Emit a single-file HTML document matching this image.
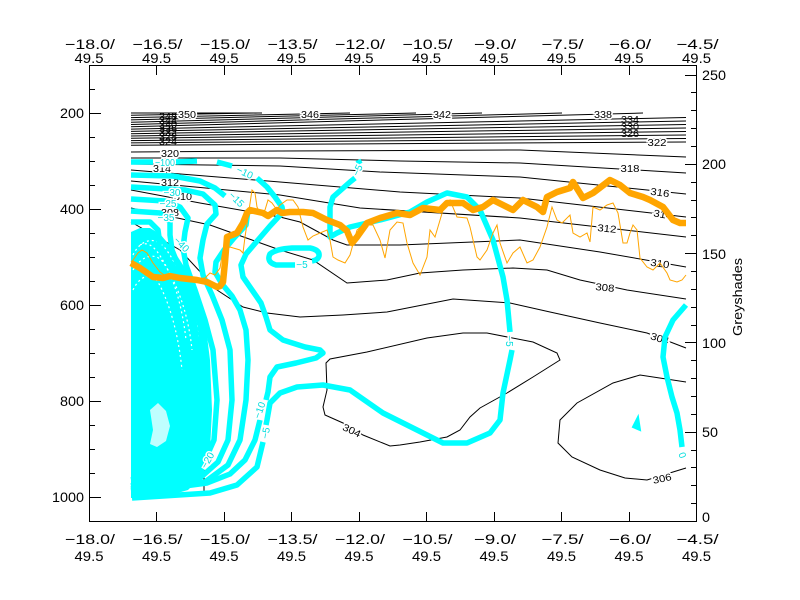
<!DOCTYPE html>
<html><head><meta charset="utf-8"><style>html,body{margin:0;padding:0;background:#fff;}svg{display:block;}</style></head>
<body>
<svg width="800" height="600" viewBox="0 0 800 600" xmlns="http://www.w3.org/2000/svg" font-family="'Liberation Sans', sans-serif">
<rect width="800" height="600" fill="#fff"/>

<!-- black theta contours -->
<g fill="none" stroke="#000" stroke-width="1">
  <path d="M131,113 L262,113"/>
  <path d="M131,115.3 L258,113"/>
  <path d="M131,117.6 L350,113"/>
  <path d="M131,119.9 L416,113"/>
  <path d="M131,122.2 L482,113"/>
  <path d="M131,124.5 L562,113"/>
  <path d="M131,126.8 L643,113"/>
  <path d="M131,129.1 L686,117.5"/>
  <path d="M131,131.4 L686,121"/>
  <path d="M131,133.7 L686,124.5"/>
  <path d="M131,136 L686,128"/>
  <path d="M131,138.3 L686,131.5"/>
  <path d="M131,140.6 L686,135"/>
  <path d="M131,142.9 L686,138.5"/>
  <path d="M131,145.2 L686,142"/>
  <path d="M131,152 L280,151 L520,150 L686,157"/>
  <path d="M131,158 L280,158 L400,161 L520,163 L686,173"/>
  <path d="M131,164 L280,166 L380,172 L520,177 L686,194"/>
  <path d="M131,170 L280,182 L400,192 L520,198 L686,217"/>
  <path d="M131,181 L280,195 L360,208 L520,218 L686,237"/>
  <path d="M131,190 L200,203 L280,217 L300,222 L333,240 L347,245 L400,245 L520,240 L600,252 L686,267"/>
  <path d="M131,208 L210,225 L280,250 L313,260 L347,283 L387,280 L420,273 L463,270 L513,268 L547,270 L580,280 L627,290 L686,299"/>
  <path d="M131,222 L180,250 L217,290 L243,307 L267,313 L300,317 L343,315 L387,312 L453,299 L510,303 L550,312 L600,323 L647,333 L686,348"/>
  <path d="M560,360 L533,377 L507,393 L480,408 L470,417 L460,430 L447,437 L420,442 L400,445 L390,446 L363,435 L343,423 L325,415 L323,407 L327,390 L326,363 L330,359 L367,352 L427,338 L463,333 L487,333 L533,342 L557,353 Z"/>
  <path d="M686,382 L640,375 L613,383 L577,403 L560,420 L558,443 L572,457 L600,470 L625,478 L647,480 L673,472 L686,468"/>
  <path d="M204,460 L204,495"/>
</g>

<!-- black contour labels -->
<g font-size="10" fill="#000" text-anchor="middle" stroke="#fff" stroke-width="3" paint-order="stroke">
  <text x="187" y="118" textLength="18" lengthAdjust="spacingAndGlyphs">350</text>
  <text x="310" y="118" textLength="18" lengthAdjust="spacingAndGlyphs">346</text>
  <text x="442" y="118" textLength="18" lengthAdjust="spacingAndGlyphs">342</text>
  <text x="603" y="118" textLength="18" lengthAdjust="spacingAndGlyphs">338</text>
  <text x="657" y="146" textLength="19" lengthAdjust="spacingAndGlyphs">322</text>
  <text x="630" y="172" textLength="19" lengthAdjust="spacingAndGlyphs">318</text>
  <text x="660" y="196" textLength="19" lengthAdjust="spacingAndGlyphs" transform="rotate(8,660,192)">316</text>
  <text x="663" y="218" textLength="19" lengthAdjust="spacingAndGlyphs" transform="rotate(10,663,214)">314</text>
  <text x="607" y="232" textLength="19" lengthAdjust="spacingAndGlyphs" transform="rotate(6,607,228)">312</text>
  <text x="660" y="267" textLength="19" lengthAdjust="spacingAndGlyphs" transform="rotate(8,660,263)">310</text>
  <text x="605" y="291" textLength="19" lengthAdjust="spacingAndGlyphs" transform="rotate(6,605,287)">308</text>
  <text x="660" y="342" textLength="19" lengthAdjust="spacingAndGlyphs" transform="rotate(18,660,338)">304</text>
  <text x="352" y="434" textLength="19" lengthAdjust="spacingAndGlyphs" transform="rotate(25,352,430)">304</text>
  <text x="662" y="482" textLength="19" lengthAdjust="spacingAndGlyphs" transform="rotate(-12,662,478)">306</text>
  <text x="170" y="157" textLength="18" lengthAdjust="spacingAndGlyphs">320</text>
  <text x="162" y="172" textLength="18" lengthAdjust="spacingAndGlyphs">314</text>
  <text x="170" y="186" textLength="18" lengthAdjust="spacingAndGlyphs">312</text>
  <text x="183" y="200" textLength="18" lengthAdjust="spacingAndGlyphs">310</text>
  <text x="170" y="216" textLength="18" lengthAdjust="spacingAndGlyphs">308</text>
</g>
<g font-size="10" fill="#000" text-anchor="middle">
  <text x="630" y="123" textLength="18" lengthAdjust="spacingAndGlyphs">334</text>
  <text x="630" y="130" textLength="18" lengthAdjust="spacingAndGlyphs">330</text>
  <text x="630" y="137" textLength="18" lengthAdjust="spacingAndGlyphs">326</text>
  <text x="168" y="120" textLength="18" lengthAdjust="spacingAndGlyphs">348</text>
  <text x="168" y="124" textLength="18" lengthAdjust="spacingAndGlyphs">344</text>
  <text x="168" y="128" textLength="18" lengthAdjust="spacingAndGlyphs">340</text>
  <text x="168" y="132" textLength="18" lengthAdjust="spacingAndGlyphs">336</text>
  <text x="168" y="136" textLength="18" lengthAdjust="spacingAndGlyphs">332</text>
  <text x="168" y="140" textLength="18" lengthAdjust="spacingAndGlyphs">328</text>
  <text x="168" y="145" textLength="18" lengthAdjust="spacingAndGlyphs">324</text>
</g>

<!-- cyan mass -->
<path d="M131,232 L140,228 L150,228 L160,234 L172,248 L185,268 L197,292 L205,320 L210,360 L212,410 L210,450 L203,475 L188,490 L160,498 L131,498 Z" fill="#00ffff"/>
<g fill="none" stroke="#fff" stroke-width="1.2" stroke-dasharray="2 3">
  <path d="M133,255 C140,240 155,235 165,248 C178,265 195,300 200,340"/>
  <path d="M133,270 C142,255 155,252 163,262 C175,280 188,310 192,350"/>
  <path d="M133,290 C140,275 152,272 158,282 C168,300 178,330 182,370"/>
  <path d="M140,245 C150,240 158,250 168,270 C178,290 184,320 186,340"/>
</g>
<path d="M150,410 L158,403 L166,411 L170,426 L166,441 L157,447 L150,444 L153,430 Z" fill="#fff" fill-opacity="0.75"/>

<!-- cyan contours -->
<g fill="none" stroke="#00ffff" stroke-width="5.5" stroke-linejoin="round" stroke-linecap="butt">
  <path d="M132,498 L210,493 L237,485 L257,467 L263,442 M266,425 L267,420 L270,403 L280,393 L297,387 L323,385 L350,390 L383,413 L417,430 L443,443 L467,443 L490,433 L500,420 L503,393 L510,360 L512,350 M510,332 L507,300 L503,277 L493,240 L480,210 L467,197 L447,193 L427,202 L410,212 L380,220 L350,227 L337,233 L330,237 L330,207 L333,197 L350,182 L355,178"/>
  <path d="M358,160 L360,164"/>
  <path d="M131,162 L153,162 M176,162 L197,161 M217,162 L232,166 M257,178 L267,187 L275,197 L282,207 L283,212 L270,226 L258,240 L246,254 L241,265 L243,277 L252,290 L261,303 L266,317 L270,330 L283,340 L305,347 L320,350 L323,353 L316,358 L296,363 L277,367 L270,377 L268,392 L266,400 M260,420 L255,440 L245,460 L230,474 L207,483 L132,493"/>
  <path d="M131,175 L173,176 L200,181 L215,188 L225,196 M248,210 L246,225 L234,238 L224,250 L216,262 L215,272 L222,284 L232,296 L240,310 L246,330 L248,360 L246,400 L240,440 L228,465 L205,482 L131,491"/>
  <path d="M131,187 L185,190 L203,194 L215,205 L216,214 L207,224 L203,240 L200,258 L203,275 L212,295 L222,320 L230,350 L232,400 L228,440 L218,462 L200,478 L131,489"/>
  <path d="M131,199 L165,201 L180,207 L188,218 L185,232 L183,248 L186,265 L195,290 L205,320 L213,350 L217,400 L214,440 L205,460 L190,474 L131,486"/>
  <path d="M131,211 L160,213 L170,222 L170,235 L172,250 L180,270 L190,295 L200,325 L205,360 L207,410 L203,450 L185,470 L131,480"/>
  <path d="M131,222 L150,222 L158,230 L160,245"/>
  <path d="M295,265 L276,265 Q266,262 270,254 Q276,249 292,248 L310,248 Q320,250 319,256 Q318,260 312,261"/>
  <path d="M686,305 L673,320 L665,337 L663,357 L667,377 L672,397 L677,413 L680,430 L682,447"/>
</g>
<polygon points="633,427 638,417 640,430" fill="#00ffff" stroke="#00ffff" stroke-width="2"/>

<!-- cyan labels -->
<g font-size="10" fill="#00dddd" text-anchor="middle" stroke="#fff" stroke-width="3" paint-order="stroke">
  <text x="165" y="166" textLength="20" lengthAdjust="spacingAndGlyphs">−100</text>
  <text x="245" y="176" transform="rotate(25,245,172)">−10</text>
  <text x="237" y="203" transform="rotate(45,237,199)">−15</text>
  <text x="357" y="174" transform="rotate(-65,357,170)">−5</text>
  <text x="302" y="268">−5</text>
  <text x="510" y="345" transform="rotate(90,510,341)">−5</text>
  <text x="265" y="437" transform="rotate(-80,265,433)">−5</text>
  <text x="259" y="414" transform="rotate(-70,259,410)">−10</text>
  <text x="207" y="464" transform="rotate(-60,207,460)">−20</text>
  <text x="172" y="196">−30</text>
  <text x="168" y="207">−25</text>
  <text x="166" y="221">−35</text>
  <text x="182" y="248" transform="rotate(45,182,244)">−40</text>
  <text x="683" y="459" transform="rotate(70,683,455)">0</text>
</g>

<!-- orange lines -->
<path d="M131,262 L133,260 L138,253 L142,250 L147,253 L153,263 L160,272 L167,277 L180,279 L197,279 L205,278 L210,273 L215,275 L220,268 L223,250 L230,247 L240,250 L243,253 L245,237 L248,217 L252,190 L255,193 L257,207 L260,213 L265,210 L268,200 L272,203 L277,210 L280,205 L287,200 L293,200 L298,207 L303,227 L308,240 L313,236 L320,233 L327,230 L330,240 L333,257 L338,260 L345,263 L350,255 L357,230 L363,225 L373,225 L380,240 L385,258 L390,230 L397,222 L403,223 L407,243 L413,263 L420,275 L427,257 L430,230 L435,237 L443,210 L450,200 L457,217 L467,218 L470,227 L477,257 L480,260 L487,250 L493,233 L497,225 L500,243 L507,263 L513,253 L520,247 L527,263 L533,260 L540,247 L547,227 L552,207 L557,220 L562,223 L570,215 L573,233 L580,237 L587,233 L590,242 L593,207 L600,210 L607,205 L613,203 L618,213 L623,243 L627,243 L630,233 L633,225 L637,230 L640,258 L647,267 L653,270 L660,263 L667,273 L670,280 L677,282 L682,280 L686,275" fill="none" stroke="#ffa500" stroke-width="1"/>
<path d="M131,263 L140,268 L153,277 L163,278 L170,276 L180,278 L197,280 L207,282 L213,285 L217,287 L220,286 L223,282 L225,262 L227,237 L237,233 L243,223 L247,213 L250,210 L263,213 L268,216 L277,210 L282,213 L290,212 L303,212 L313,213 L327,220 L340,225 L347,231 L352,243 L357,237 L367,223 L380,218 L397,213 L410,215 L423,208 L440,210 L447,203 L463,203 L473,210 L483,207 L493,200 L503,205 L513,210 L523,200 L537,207 L543,212 L547,197 L557,192 L570,188 L573,182 L583,198 L593,193 L610,180 L620,185 L630,193 L643,197 L650,200 L663,207 L673,220 L680,223 L686,223" fill="none" stroke="#ffa500" stroke-width="6.5" stroke-linejoin="round"/>

<!-- frame and ticks -->
<g fill="none" stroke="#000" stroke-width="1" shape-rendering="crispEdges">
  <rect x="89.5" y="65.5" width="607" height="456"/>
  <path d="M89,89.5h6 M89,113.5h12 M89,137.5h6 M89,161.5h6 M89,185.5h6 M89,209.5h12 M89,233.5h6 M89,257.5h6 M89,281.5h6 M89,305.5h12 M89,329.5h6 M89,353.5h6 M89,377.5h6 M89,401.5h12 M89,425.5h6 M89,449.5h6 M89,473.5h6 M89,497.5h12"/>
  <path d="M697,503.5h-6 M697,485.5h-6 M697,467.5h-6 M697,450.5h-6 M697,432.5h-12 M697,414.5h-6 M697,396.5h-6 M697,378.5h-6 M697,360.5h-6 M697,342.5h-12 M697,325.5h-6 M697,307.5h-6 M697,289.5h-6 M697,271.5h-6 M697,253.5h-12 M697,235.5h-6 M697,217.5h-6 M697,200.5h-6 M697,182.5h-6 M697,164.5h-12 M697,146.5h-6 M697,128.5h-6 M697,110.5h-6 M697,92.5h-6 M697,75.5h-12"/>
  <path d="M156.5,66v9 M224.5,66v9 M291.5,66v9 M359.5,66v9 M426.5,66v9 M494.5,66v9 M561.5,66v9 M629.5,66v9"/>
  <path d="M156.5,521v-9 M224.5,521v-9 M291.5,521v-9 M359.5,521v-9 M426.5,521v-9 M494.5,521v-9 M561.5,521v-9 M629.5,521v-9"/>
</g>

<!-- axis labels -->
<g font-size="14" fill="#000" text-anchor="middle" lengthAdjust="spacingAndGlyphs">
  <text x="90" y="49" textLength="50" lengthAdjust="spacingAndGlyphs">−18.0/</text>
  <text x="157.5" y="49" textLength="50" lengthAdjust="spacingAndGlyphs">−16.5/</text>
  <text x="225" y="49" textLength="50" lengthAdjust="spacingAndGlyphs">−15.0/</text>
  <text x="292.5" y="49" textLength="50" lengthAdjust="spacingAndGlyphs">−13.5/</text>
  <text x="360" y="49" textLength="50" lengthAdjust="spacingAndGlyphs">−12.0/</text>
  <text x="427.5" y="49" textLength="50" lengthAdjust="spacingAndGlyphs">−10.5/</text>
  <text x="495" y="49" textLength="42" lengthAdjust="spacingAndGlyphs">−9.0/</text>
  <text x="562.5" y="49" textLength="42" lengthAdjust="spacingAndGlyphs">−7.5/</text>
  <text x="630" y="49" textLength="42" lengthAdjust="spacingAndGlyphs">−6.0/</text>
  <text x="697.5" y="49" textLength="42" lengthAdjust="spacingAndGlyphs">−4.5/</text>
  <text x="89" y="63" textLength="29" lengthAdjust="spacingAndGlyphs">49.5</text>
  <text x="156.5" y="63" textLength="29" lengthAdjust="spacingAndGlyphs">49.5</text>
  <text x="224" y="63" textLength="29" lengthAdjust="spacingAndGlyphs">49.5</text>
  <text x="291.5" y="63" textLength="29" lengthAdjust="spacingAndGlyphs">49.5</text>
  <text x="359" y="63" textLength="29" lengthAdjust="spacingAndGlyphs">49.5</text>
  <text x="426.5" y="63" textLength="29" lengthAdjust="spacingAndGlyphs">49.5</text>
  <text x="494" y="63" textLength="29" lengthAdjust="spacingAndGlyphs">49.5</text>
  <text x="561.5" y="63" textLength="29" lengthAdjust="spacingAndGlyphs">49.5</text>
  <text x="629" y="63" textLength="29" lengthAdjust="spacingAndGlyphs">49.5</text>
  <text x="696.5" y="63" textLength="29" lengthAdjust="spacingAndGlyphs">49.5</text>

  <text x="90" y="544" textLength="50" lengthAdjust="spacingAndGlyphs">−18.0/</text>
  <text x="157.5" y="544" textLength="50" lengthAdjust="spacingAndGlyphs">−16.5/</text>
  <text x="225" y="544" textLength="50" lengthAdjust="spacingAndGlyphs">−15.0/</text>
  <text x="292.5" y="544" textLength="50" lengthAdjust="spacingAndGlyphs">−13.5/</text>
  <text x="360" y="544" textLength="50" lengthAdjust="spacingAndGlyphs">−12.0/</text>
  <text x="427.5" y="544" textLength="50" lengthAdjust="spacingAndGlyphs">−10.5/</text>
  <text x="495" y="544" textLength="42" lengthAdjust="spacingAndGlyphs">−9.0/</text>
  <text x="562.5" y="544" textLength="42" lengthAdjust="spacingAndGlyphs">−7.5/</text>
  <text x="630" y="544" textLength="42" lengthAdjust="spacingAndGlyphs">−6.0/</text>
  <text x="697.5" y="544" textLength="42" lengthAdjust="spacingAndGlyphs">−4.5/</text>
  <text x="89" y="561" textLength="29" lengthAdjust="spacingAndGlyphs">49.5</text>
  <text x="156.5" y="561" textLength="29" lengthAdjust="spacingAndGlyphs">49.5</text>
  <text x="224" y="561" textLength="29" lengthAdjust="spacingAndGlyphs">49.5</text>
  <text x="291.5" y="561" textLength="29" lengthAdjust="spacingAndGlyphs">49.5</text>
  <text x="359" y="561" textLength="29" lengthAdjust="spacingAndGlyphs">49.5</text>
  <text x="426.5" y="561" textLength="29" lengthAdjust="spacingAndGlyphs">49.5</text>
  <text x="494" y="561" textLength="29" lengthAdjust="spacingAndGlyphs">49.5</text>
  <text x="561.5" y="561" textLength="29" lengthAdjust="spacingAndGlyphs">49.5</text>
  <text x="629" y="561" textLength="29" lengthAdjust="spacingAndGlyphs">49.5</text>
  <text x="696.5" y="561" textLength="29" lengthAdjust="spacingAndGlyphs">49.5</text>
</g>
<g font-size="14" fill="#000" text-anchor="end">
  <text x="84" y="118" textLength="24" lengthAdjust="spacingAndGlyphs">200</text>
  <text x="84" y="214" textLength="24" lengthAdjust="spacingAndGlyphs">400</text>
  <text x="84" y="310" textLength="24" lengthAdjust="spacingAndGlyphs">600</text>
  <text x="84" y="406" textLength="24" lengthAdjust="spacingAndGlyphs">800</text>
  <text x="84" y="502" textLength="32" lengthAdjust="spacingAndGlyphs">1000</text>
</g>
<g font-size="14" fill="#000" text-anchor="start">
  <text x="702" y="80" textLength="24" lengthAdjust="spacingAndGlyphs">250</text>
  <text x="702" y="169" textLength="24" lengthAdjust="spacingAndGlyphs">200</text>
  <text x="702" y="259" textLength="24" lengthAdjust="spacingAndGlyphs">150</text>
  <text x="702" y="348" textLength="24" lengthAdjust="spacingAndGlyphs">100</text>
  <text x="702" y="437" textLength="16" lengthAdjust="spacingAndGlyphs">50</text>
  <text x="702" y="522" textLength="8" lengthAdjust="spacingAndGlyphs">0</text>
</g>
<text transform="translate(742,297) rotate(-90)" x="0" y="0" font-size="13" text-anchor="middle" textLength="78" lengthAdjust="spacingAndGlyphs" fill="#000">Greyshades</text>
</svg>
</body></html>
